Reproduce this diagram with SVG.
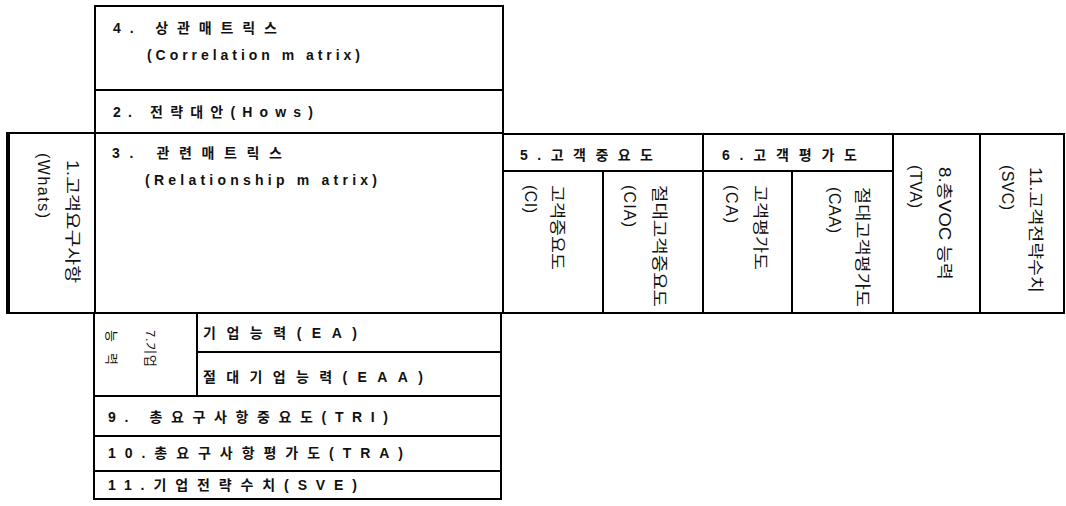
<svg xmlns="http://www.w3.org/2000/svg" width="1066" height="506" viewBox="0 0 1066 506">
<style>
.bx{stroke:#000;stroke-width:2;fill:#fff}
.t{font-family:"Liberation Sans","Noto Sans CJK KR",sans-serif;font-size:14px;font-weight:bold;fill:#111}
.v{font-family:"Liberation Sans","Noto Sans CJK KR",sans-serif;font-size:16px;fill:#111}
.vs{font-family:"Liberation Sans","Noto Sans CJK KR",sans-serif;font-size:13px;fill:#111}
</style>
<rect width="1066" height="506" fill="#fff"/>

<g id="correlation-matrix">
<rect class="bx" x="95" y="6" width="408" height="84"/>
<text class="t" x="113" y="33" textLength="164" lengthAdjust="spacing">4. 상관매트릭스</text>
<text class="t" x="147" y="60" textLength="213" lengthAdjust="spacing">(Correlation m atrix)</text>
</g>

<g id="hows">
<rect class="bx" x="95" y="90" width="408" height="43"/>
<text class="t" x="113" y="117" textLength="200" lengthAdjust="spacing">2. 전략대안(Hows)</text>
</g>

<g id="whats">
<rect class="bx" x="8" y="133" width="87" height="180"/>
<line x1="8" y1="132" x2="8" y2="314" stroke="#000" stroke-width="4"/>
<text class="v" transform="translate(67,160) rotate(90)" textLength="123" lengthAdjust="spacingAndGlyphs">1.고객요구사항</text>
<text class="v" transform="translate(38,153) rotate(90)" textLength="65" lengthAdjust="spacing">(Whats)</text>
</g>

<g id="relationship-matrix">
<rect class="bx" x="95" y="133" width="408" height="180"/>
<text class="t" x="112" y="158" textLength="170" lengthAdjust="spacing">3. 관련매트릭스</text>
<text class="t" x="145" y="185" textLength="232" lengthAdjust="spacing">(Relationship m atrix)</text>
</g>

<g id="customer-importance">
<rect class="bx" x="503" y="134" width="200" height="37"/>
<text class="t" x="520" y="160" textLength="133" lengthAdjust="spacing">5.고객중요도</text>
</g>
<g id="ci">
<rect class="bx" x="503" y="171" width="100" height="142"/>
<text class="v" transform="translate(552,185) rotate(90)" textLength="85" lengthAdjust="spacingAndGlyphs">고객중요도</text>
<text class="v" transform="translate(525,185) rotate(90)" textLength="28" lengthAdjust="spacing">(CI)</text>
</g>
<g id="cia">
<rect class="bx" x="603" y="171" width="100" height="142"/>
<text class="v" transform="translate(654,185) rotate(90)" textLength="122" lengthAdjust="spacingAndGlyphs">절대고객중요도</text>
<text class="v" transform="translate(624,185) rotate(90)" textLength="42" lengthAdjust="spacing">(CIA)</text>
</g>

<g id="customer-evaluation">
<rect class="bx" x="703" y="134" width="190" height="37"/>
<text class="t" x="722" y="160" textLength="135" lengthAdjust="spacing">6.고객평가도</text>
</g>
<g id="ca">
<rect class="bx" x="703" y="171" width="89" height="142"/>
<text class="v" transform="translate(755,185) rotate(90)" textLength="85" lengthAdjust="spacingAndGlyphs">고객평가도</text>
<text class="v" transform="translate(726,185) rotate(90)" textLength="38" lengthAdjust="spacing">(CA)</text>
</g>
<g id="caa">
<rect class="bx" x="792" y="171" width="101" height="142"/>
<text class="v" transform="translate(857,187) rotate(90)" textLength="120" lengthAdjust="spacingAndGlyphs">절대고객평가도</text>
<text class="v" transform="translate(829,187) rotate(90)" textLength="46" lengthAdjust="spacing">(CAA)</text>
</g>

<g id="tva">
<rect class="bx" x="893" y="134" width="87" height="179"/>
<text class="v" transform="translate(939,167) rotate(90)" textLength="113" lengthAdjust="spacingAndGlyphs">8.총VOC 능력</text>
<text class="v" transform="translate(910,165) rotate(90)" textLength="43" lengthAdjust="spacing">(TVA)</text>
</g>

<g id="svc">
<rect class="bx" x="980" y="134" width="84" height="179"/>
<text class="v" transform="translate(1030,167) rotate(90)" textLength="126" lengthAdjust="spacingAndGlyphs">11.고객전략수치</text>
<text class="v" transform="translate(1002,165) rotate(90)" textLength="45" lengthAdjust="spacing">(SVC)</text>
</g>

<g id="enterprise-capability">
<rect class="bx" x="94" y="313" width="103" height="83"/>
<text class="vs" transform="translate(146,330) rotate(90)" textLength="37" lengthAdjust="spacing">7.기업</text>
<text class="vs" transform="translate(107,330) rotate(90)" textLength="35" lengthAdjust="spacing">능력</text>
</g>
<g id="ea">
<rect class="bx" x="197" y="313" width="304" height="39"/>
<text class="t" x="203" y="338" textLength="154" lengthAdjust="spacing">기업능력(EA)</text>
</g>
<g id="eaa">
<rect class="bx" x="197" y="352" width="304" height="44"/>
<text class="t" x="203" y="382" textLength="220" lengthAdjust="spacing">절대기업능력(EAA)</text>
</g>

<g id="tri">
<rect class="bx" x="94" y="396" width="407" height="40"/>
<text class="t" x="108" y="422" textLength="280" lengthAdjust="spacing">9. 총요구사항중요도(TRI)</text>
</g>
<g id="tra">
<rect class="bx" x="94" y="436" width="407" height="35"/>
<text class="t" x="108" y="458" textLength="295" lengthAdjust="spacing">10.총요구사항평가도(TRA)</text>
</g>
<g id="sve">
<rect class="bx" x="94" y="471" width="407" height="28"/>
<text class="t" x="108" y="490" textLength="249" lengthAdjust="spacing">11.기업전략수치(SVE)</text>
</g>

<g id="connectors"></g>
</svg>
